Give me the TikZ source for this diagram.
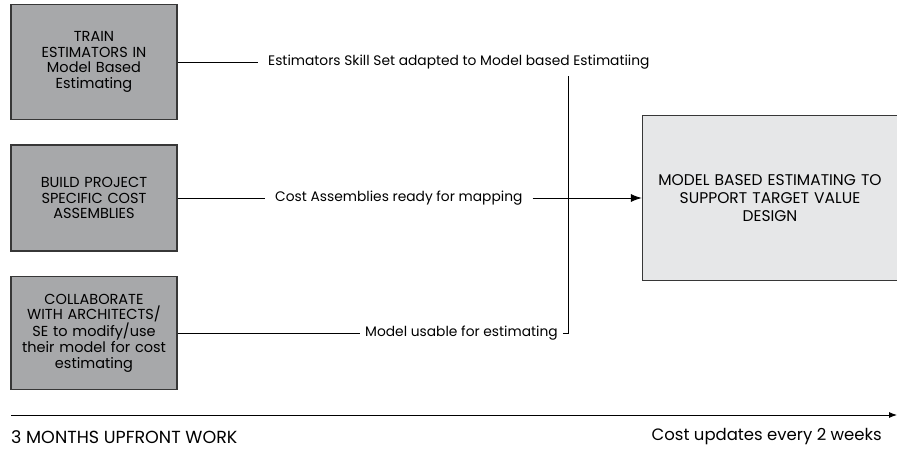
\documentclass[tikz,border=0pt]{standalone}
\usepackage{fontspec}
\setmainfont{Poppins}
\usepackage{xcolor}
\usepackage{tikz}
\usetikzlibrary{arrows.meta}
\usetikzlibrary{positioning}

\definecolor{taskgray}{RGB}{167,168,170}
\definecolor{goalgray}{RGB}{230,231,232}
\definecolor{edgegray}{RGB}{55,55,55}

\tikzset{
    task/.style={draw=edgegray, line width=1.3pt, fill=taskgray, minimum width=166pt,
        text width=160pt, align=center, inner sep=0pt, font=\fontsize{14.5}{15.6}\selectfont},
    goal/.style={draw=edgegray, line width=1.3pt, fill=goalgray, minimum width=255pt,
        minimum height=165pt, text width=245pt, align=center, inner sep=0pt, font=\fontsize{15.5}{18}\selectfont},
    flow/.style={inner xsep=10pt, inner ysep=2pt, font=\fontsize{13.8}{16}\selectfont},
    wire/.style={line width=0.9pt, black},
}

\begin{document}
\begin{tikzpicture}[x=1pt, y=-1pt]
    \useasboundingbox (0,0) rectangle (897,449);
    % work packages
    \node[task, minimum height=115pt] (train) at (94,62) {TRAIN\\ESTIMATORS IN\\Model Based\\Estimating};
    \node[task, minimum height=106pt] (build) at (94,198) {BUILD PROJECT\\SPECIFIC COST\\ASSEMBLIES};
    \node[task, minimum height=113pt] (collab) at (94,333) {COLLABORATE\\WITH ARCHITECTS/\\SE to modify/use\\their model for cost\\estimating};
    \node[goal] (target) at (770,198) {MODEL BASED ESTIMATING TO\\SUPPORT TARGET VALUE\\DESIGN};
    % outputs
    \node[flow, anchor=west] (skill) at (258,62) {Estimators Skill Set adapted to Model based Estimatiing};
    \node[flow, anchor=west] (mapping) at (265,198) {Cost Assemblies ready for mapping};
    \node[flow, anchor=west, inner xsep=5pt] (usable) at (360,333) {Model usable for estimating};
    \coordinate (join) at (568,76);
    \draw[wire] (train.east) -- (skill.west);
    \draw[wire] (build.east) -- (mapping.west);
    \draw[wire] (collab.east) -- (usable.west);
    \draw[wire] (usable.east) -| (join);
    \draw[wire, -{Latex[length=11pt,width=8pt]}] (mapping.east) -- (target.west);
    % timeline
    \coordinate (tstart) at (11,415);
    \coordinate (tend) at (897,415);
    \draw[wire, -{Latex[length=8pt,width=6pt]}] (tstart) -- (tend);
    \node[anchor=west, inner sep=0pt, font=\fontsize{17.5}{19}\selectfont] (upfront) at (11,437) {3 MONTHS UPFRONT WORK};
    \node[anchor=east, inner sep=0pt, font=\fontsize{16.5}{19}\selectfont] (updates) at (882,437) {Cost updates every 2 weeks};
\end{tikzpicture}
\end{document}
